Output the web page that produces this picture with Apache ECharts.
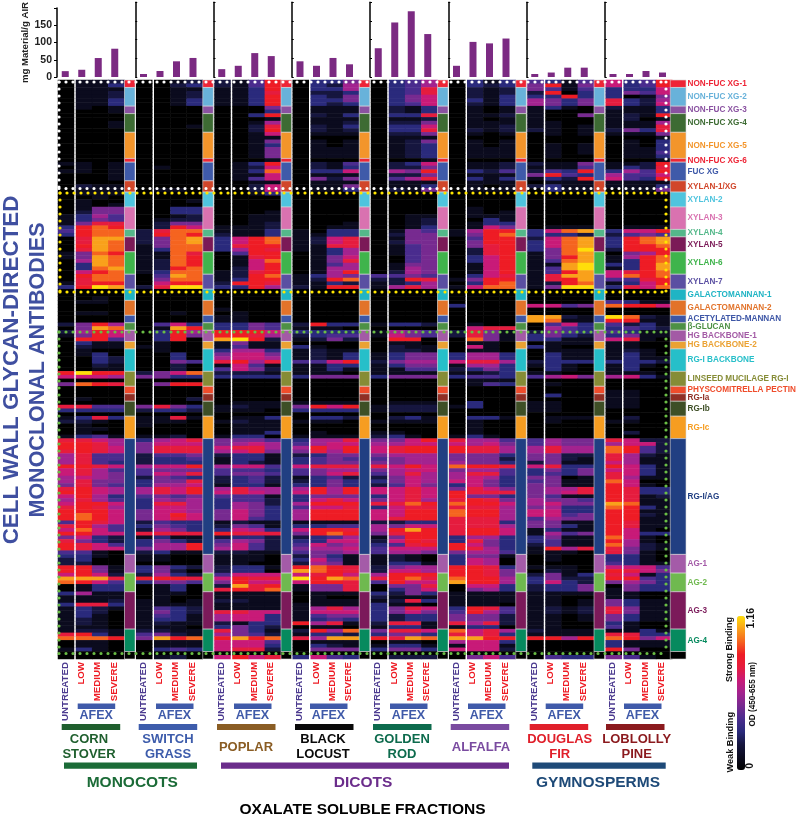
<!DOCTYPE html>
<html><head><meta charset="utf-8">
<style>html,body{margin:0;padding:0;background:#fff}#c{width:796px;height:818px}</style>
<script src="https://cdn.jsdelivr.net/npm/echarts@6/dist/echarts.min.js"></script>
</head><body><div id="c"></div>
<script>
// Antibody classes, top to bottom
const classNames = ["NON-FUC XG-1","NON-FUC XG-2","NON-FUC XG-3","NON-FUC XG-4","NON-FUC XG-5","NON-FUC XG-6","FUC XG","XYLAN-1/XG","XYLAN-2","XYLAN-3","XYLAN-4","XYLAN-5","XYLAN-6","XYLAN-7","GALACTOMANNAN-1","GALACTOMANNAN-2","ACETYLATED-MANNAN","β-GLUCAN","HG BACKBONE-1","HG BACKBONE-2","RG-I BACKBONE","LINSEED MUCILAGE RG-I","PHYSCOMITRELLA PECTIN","RG-Ia","RG-Ib","RG-Ic","RG-I/AG","AG-1","AG-2","AG-3","AG-4",""];
const classRows = [2,5,2,5,7,1,5,3,4,6,2,4,6,4,3,4,2,2,3,2,6,4,2,2,4,6,31,5,5,10,6,2];
const classColors = ["#ee2536","#68b2da","#8a52a1","#3d6b33","#f3952b","#ee2536","#3f5aa9","#d1462a","#4fc4de","#d972b0","#54b88a","#7b1a57","#3fb44c","#5a4fa2","#1fb4c4","#e2732a","#3d56a6","#4d9145","#a35aa5","#eba233","#26bfc9","#868c36","#ef4c2b","#902f25","#3e4f26","#f69d21","#213f82","#a45ba8","#6fb94f","#7b1a5a","#068a5e","#000000"];
const labelColors = classColors;

const species = ["CORN|STOVER","SWITCH|GRASS","POPLAR","BLACK|LOCUST","GOLDEN|ROD","ALFALFA","DOUGLAS|FIR","LOBLOLLY|PINE"];
const speciesColors = ["#1f5f2e","#3d5cab","#8a5d24","#0a0a0a","#0d6b4d","#7a4ba0","#e01f2a","#8b1a1e"];
const treatments = ["UNTREATED","LOW","MEDIUM","SEVERE"];
const divisions = ["MONOCOTS","DICOTS","GYMNOSPERMS"];

// mg Material / g AIR: untreated, low, medium, severe
const yieldCorn = [17,21,55,82];
const yieldSwitch = [8,16,42,51];
const yieldPoplar = [21,30,64,56];
const yieldLocust = [42,30,51,34];
const yieldGolden = [77,146,176,115];
const yieldAlfalfa = [30,94,90,103];
const yieldDouglas = [8,12,25,25];
const yieldLoblolly = [8,8,16,12];

// Binding level per antibody row, one hex digit per fraction (untreated, low, medium, severe); 0 = none, c = 1.16 OD
const cornStover = ["0112","0113","0111","0112","0112","0113","0113","0101","0001","0000","0000","0001","0001","0000",
"0000","0000","0000","0000","0000","0000","0000","0000","1101","0101","1101","0001","0001","0000","0211","0111",
"0111","0010","0100","0101","0155","0255","1364","1354","1588","39a9","49aa","39aa","08bb","08ba","09ba","08ba",
"15a9","15ba","06ba","03ba","03ab","079a","09aa","08aa","1899","39cb","0000","0000","0010","0110","0000","0000","0110",
"0000","0000","2596","05ba","2697","1597","0994","0311","0211","0100","0130","0032","0032","0021","0011",
"9c99","7776","0000","5a98","0000","0000","0000","0100","0000","8844","3333","0000","1383","2210","0100","0110","0100","1341",
"8876","9986","9987","8987","6844","6844","6843","9987","7864","7865","6765","6855","5854","8976","9976","7963","6864","7997",
"8986","9997","9a97","9a97","4987","8964","7a74","9977","5732","8532","9874","9877","4410",
"3310","2300","2200","9951","9951","7972","bbb8","a974","0133","0133",
"3611","1111","1112","3883","1321","1320","1310","1210","1210","1110","1221","8931","aaa9","0110","0110","1310","0000","0000"];

const switchGrass = ["0012","0023","0011","0012","0012","0013","0013","0000","0000","0000","0000","0000","0001","0000",
"0000","0000","0000","0000","0000","0000","0000","0000","0000","0100","0000","0000","0000","0000","0000","0110",
"0000","0000","0001","0000","0033","0033","0012","0122","0255","0297","28aa","29a9","25ab","25ab","15aa","13aa",
"11a8","11a9","12a9","12a9","129a","13aa","04ba","05aa","0799","28cc","0000","0000","0000","0000","0000","0000","0010",
"0000","0000","0473","01b9","0396","0395","0390","0100","1100","0100","0030","0030","0054","0020","0020",
"257a","5533","0000","0599","0000","0000","0000","0002","0000","5853","2332","0000","1181","1110","1000","0000","0000","1120",
"3678","5777","5888","5888","2445","2334","2333","6779","4555","4768","2543","3558","3667","6879","6879","4545","3656","3886",
"3776","5776","5797","5787","2433","3543","2653","8888","1311","3532","3669","5669","2311",
"1100","1100","0000","3532","3520","2632","9998","3554","0130","0130",
"0110","0100","1101","1111","1432","1532","1431","1331","1211","1110","2211","4521","5b9a","0111","0111","0343","0000","0120"];

const poplar = ["2149","2149","1139","1138","1139","1139","1139","0005","0003","0039","0001","0016","0028","0029",
"0017","0011","0015","0013","0015","0015","0015","0001","0139","0127","013a","0117","0147","0011","0027","0027",
"0013","0000","0000","0000","0000","0001","0011","0011","0012","1112","1113","2113","379a","379a","3899","3698",
"0499","0189","017a","0179","0279","1289","129a","1399","2998","3396","0000","0000","0000","0000","0000","1000","0100",
"1100","1100","3354","3354","9997","9986","bc92","1511","1411","3663","5775","6776","8968","1741","4752",
"2221","3333","0000","0000","0000","0000","0000","0000","0111","1211","1110","0000","0113","1211","0111","0111","0113","1330",
"5554","5676","7886","6785","2331","1331","1321","6774","4443","4554","2342","2342","1331","6866","7876","4441","3442","3652",
"3653","5753","5753","5743","1211","2541","3763","9888","2332","4652","5742","6742","2211",
"1110","1110","1100","2331","2330","4777","7988","5977","2b89","898a",
"1111","1111","2211","1111","1111","8877","6773","6773","2133","3532","8531","6542","9b9a","7774","7773","7882","0000","7978"];

const blackLocust = ["0335","0326","0336","0223","0325","0335","0323","0111","0111","0213","0111","0112","0213","0212",
"0111","0000","0101","0101","0111","0111","0111","0000","0214","0213","0337","0111","0525","0111","0115","0113",
"0000","0000","0000","0000","0000","0000","0000","0000","0001","0011","1033","1133","1278","1278","1188","1136",
"0136","0157","0158","0146","0166","0169","1365","129a","1132","2199","0000","0000","0000","0000","0000","0000","0000",
"0000","0000","2933","1110","3333","2344","1252","0000","3100","1211","1213","1213","4479","1133","1131",
"1110","3555","0000","0000","0000","0000","0000","0000","1111","5979","3333","0000","0332","1110","0000","0000","0100","1111",
"3668","4677","6979","5869","2355","3454","3455","7888","4566","4578","1342","2353","3353","6969","7969","3555","3787","6999",
"4778","6999","6999","6999","1111","3344","7998","59a9","2346","3377","4756","5667","4556",
"2531","3741","2651","9a98","ba98","7897","c9ba","7998","1558","1558",
"0111","0100","0111","1111","1686","1777","1455","1343","9681","0110","296a","1332","86bb","0111","0321","0555","0000","3743"];

const goldenRod = ["0346","0346","0348","0348","0357","0357","0347","0213","0213","0338","0112","0225","0337","0338",
"0225","0111","0125","0123","0123","0123","0123","0001","0237","0225","0659","0225","0468","0111","0113","0215",
"0000","0000","0000","0000","0000","0000","0011","0012","0012","0013","0154","0255","0155","0255","0145","0145",
"0145","0045","0045","0155","0165","0265","4454","2298","1236","1686","0000","0000","0000","0000","0000","0000","0000",
"0000","0000","1332","0000","1654","1754","0990","0110","0211","0221","1355","1355","2566","1355","1144",
"1111","3555","0000","0000","0000","0000","0000","0000","0111","1222","1222","0000","0231","1111","0000","0000","1100","2310",
"5579","6677","7899","7899","5666","4566","5566","8797","5677","4686","2576","3576","2475","7787","7787","3787","5786","88a9",
"3788","7799","7799","7899","2233","6577","69b9","5899","1599","2798","3489","4777","4665",
"1210","1210","1331","2566","2776","6999","89a8","4977","0558","0357",
"3253","2111","1283","3110","3587","3575","3233","3233","2881","1331","5887","3553","98ba","0110","1331","3553","0000","0222"];

const alfalfa = ["0313","0323","0212","0212","0213","0313","0213","0101","0101","0112","0101","0111","0112","0212",
"0101","0000","0101","0101","0111","0111","0111","0000","0112","0112","0324","0111","0313","0111","0101","0111",
"0000","0000","0000","0000","0100","0101","0111","0031","0133","0175","1699","159a","0499","0599","0589","0289",
"0289","0379","0379","0179","0179","0179","0378","1599","039a","17aa","0000","0000","0000","0000","3000","0000","0000",
"0000","0000","0100","0788","2851","2851","0a51","0110","0710","0110","3663","3663","7886","1663","2353",
"1123","3443","0111","0143","0000","0000","0000","0000","0300","1300","0000","0000","0331","0100","0100","0100","0100","1310",
"8664","7675","9886","9886","5553","5552","6553","a998","5664","6884","6763","7753","3753","5875","9888","9553","8985","a997",
"8886","a996","a996","8886","8883","8886","8997","8997","3663","3853","9753","9863","5664",
"3551","3760","3760","9983","9985","9985","a996","b996","0773","0563",
"1111","1111","1111","1110","3984","4964","5552","5552","8682","1330","a786","8783","bb99","6773","1771","7772","0000","0574"];

const douglasFir = ["4314","5915","5414","2903","3393","6535","6535","1310","1000","1005","1000","1100","1101","2101",
"0101","0000","0000","0101","0101","0101","0100","0000","2115","1114","2439","5943","1329","0111","2311","0311",
"0000","0000","0000","0000","0000","0000","0000","0000","0000","0111","37ab","3332","27ab","37ab","37ab","35ac",
"15ab","159b","14ab","11bc","14bc","149b","18bb","189b","129a","15cc","0000","0000","0000","0000","7745","0000","0000",
"bb21","ba11","0473","0643","2543","3532","3311","0111","3100","0111","0311","0311","2333","1310","0310",
"1100","4675","0000","0100","0000","0000","0300","0000","1100","1100","1100","0000","0111","0100","0000","0000","0000","0000",
"4655","4655","6866","6866","5522","5521","2511","7833","3535","3435","5501","4511","5511","5668","5678","5411","6554","6755",
"5633","7733","7745","4655","5511","5531","1311","1645","3511","3411","2411","1968","1110",
"0100","0100","0000","1110","0210","2513","3522","3732","2335","2335",
"1111","1100","1101","1101","1212","1212","1101","1101","1100","1100","2111","1111","9969","0000","0000","0000","0000","0433"];

const loblollyPine = ["7349","7349","3337","3547","3015","8326","8327","2113","1113","1219","1201","1116","1118","2538",
"1115","0001","0103","0103","0113","0114","0113","0001","1129","1328","3649","6447","7439","1111","1113","0115",
"0000","0000","0000","0000","0000","0000","0000","0000","0000","0111","3779","2454","39ab","39ab","399a","2999",
"0569","169a","139a","339b","139b","789a","7a9a","4489","1379","387a","0000","0000","0000","4311","a997","0000","0000",
"ca21","9911","4231","3432","4311","3511","7810","1100","1100","1210","1310","1311","3332","1310","1300",
"1110","6731","0000","0000","0000","1100","1100","1100","1100","1100","0000","0000","0200","1100","0000","0000","0200","0000",
"8722","6772","a942","a942","8621","8611","7611","9731","7731","8731","8611","a700","9710","9833","9833","9812","9811","ba11",
"a931","9911","9921","9911","9811","9811","9710","9733","a710","9610","a621","8521","8510",
"3310","3310","4311","7774","9875","8713","9943","5653","0533","1533",
"1100","1100","5311","5311","8511","8511","5311","5311","3100","4100","1131","8833","a957","3111","3111","9500","0000","5410"];

const heatBySpecies = [cornStover,switchGrass,poplar,blackLocust,goldenRod,alfalfa,douglasFir,loblollyPine];
const yieldBySpecies = [yieldCorn,yieldSwitch,yieldPoplar,yieldLocust,yieldGolden,yieldAlfalfa,yieldDouglas,yieldLoblolly];
const maxOD = 1.16;
const rampColors = ["#000000","#0b0b1e","#16163f","#2a2a7c","#4a2c8e","#772a90","#a3238f","#c81a78","#e51c3e","#ee1c25","#f5641f","#f9a11b","#ffde0a"];

const FONT = '"Liberation Sans",Arial,sans-serif';
const rowTotal = classRows.reduce((a,b)=>a+b,0);
heatBySpecies.forEach((a,i)=>{ if(a.length!==rowTotal) throw new Error('species '+i+' has '+a.length+' rows'); });
const rowCats = Array.from({length:rowTotal},(_,i)=>i);

const X0 = 58, PITCH = 78.25, TOP = 80, H = 579;
const grid=[], xAxis=[], yAxis=[], series=[];
function addHeat(left,width,cols,getCode){
  const g=grid.length;
  grid.push({left,width,top:TOP,height:H});
  xAxis.push({type:'category',gridIndex:g,data:cols,show:false});
  yAxis.push({type:'category',gridIndex:g,data:rowCats,inverse:true,show:false});
  const data=[];
  rowCats.forEach(r=>cols.forEach((c,ci)=>{
    data.push([ci,r,parseInt(getCode(r)[ci],16)/12*maxOD]);
  }));
  series.push({type:'heatmap',xAxisIndex:g,yAxisIndex:g,data,progressive:0,itemStyle:{borderWidth:0},emphasis:{disabled:true}});
}
species.forEach((s,i)=>{
  const x=X0+PITCH*i, codes=heatBySpecies[i];
  addHeat(x,16,[treatments[0]],r=>codes[r].slice(0,1));
  addHeat(x+18,48.5,treatments.slice(1),r=>codes[r].slice(1));
});
const heatSeriesIdx=series.map((_,i)=>i);

// yield bars
species.forEach((s,i)=>{
  const g=grid.length, first=i===0;
  grid.push({left:57+PITCH*i,width:66,top:2.3,height:74.7});
  xAxis.push({type:'category',gridIndex:g,data:treatments,axisLine:{show:false},axisTick:{show:false},axisLabel:{show:false}});
  yAxis.push({type:'value',gridIndex:g,min:0,max:200,interval:50,splitLine:{show:false},
    axisLine:{show:true,lineStyle:{color:'#000',width:1.5}},
    axisTick:{show:true,inside:!first,length:first?3:2,lineStyle:{color:'#000'}},
    axisLabel:{show:first,color:'#222',fontFamily:FONT,fontWeight:'bold',fontSize:10.5,margin:5,formatter:v=>v>150?'':String(v)},
    name:first?'mg Material/g AIR':'',nameLocation:'middle',nameGap:21,
    nameTextStyle:{color:'#222',fontFamily:FONT,fontWeight:'bold',fontSize:9.6}});
  series.push({type:'bar',xAxisIndex:g,yAxisIndex:g,data:yieldBySpecies[i],barWidth:7,itemStyle:{color:'#7b2a82'},silent:true});
});

// overlay grid: x in species pitches, y in antibody rows
const ov=grid.length;
grid.push({left:X0,width:628,top:TOP,height:H});
xAxis.push({type:'value',gridIndex:ov,min:0,max:628/PITCH,show:false});
yAxis.push({type:'value',gridIndex:ov,min:0,max:rowTotal,inverse:true,show:false});
const stripData=[], labelData=[];
let start=0;
classRows.forEach((n,c)=>{
  for(let g=0;g<8;g++){
    const a=g<7?g+0.85:7.825, b=g<7?g+0.985:628/PITCH;
    stripData.push([a,b,start,start+n,c]);
  }
  if(classNames[c]) labelData.push([628/PITCH+0.02,start+n/2,c]);
  start+=n;
});
series.push({type:'custom',xAxisIndex:ov,yAxisIndex:ov,data:stripData,clip:false,silent:true,z:5,
  encode:{x:[0,1],y:[2,3]},
  renderItem(p,api){
    const a=api.coord([api.value(0),api.value(2)]), b=api.coord([api.value(1),api.value(3)]);
    return {type:'rect',shape:{x:a[0],y:a[1],width:b[0]-a[0],height:b[1]-a[1]},
      style:{fill:classColors[api.value(4)],stroke:'#d8d8d8',lineWidth:0.6}};
  }});
series.push({type:'custom',xAxisIndex:ov,yAxisIndex:ov,data:labelData,clip:false,silent:true,z:6,
  encode:{x:0,y:1},
  renderItem(p,api){
    const a=api.coord([api.value(0),api.value(1)]), c=api.value(2);
    return {type:'text',x:a[0],y:a[1],style:{text:classNames[c],fill:labelColors[c],font:'bold 8.2px '+FONT,align:'left',verticalAlign:'middle'}};
  }});

// static annotation
const G=[];
function T(text,x,y,font,fill,rot,align,va){
  G.push({type:'text',x,y,rotation:rot||0,z:50,silent:true,style:{text,font:font+' '+FONT,fill,align:align||'center',verticalAlign:va||'middle'}});
}
function R(x,y,w,h,fill){G.push({type:'rect',shape:{x,y,width:w,height:h},style:{fill},z:40,silent:true});}
function dotted(x1,y1,x2,y2,c){
  G.push({type:'line',shape:{x1,y1,x2,y2},z:60,silent:true,style:{stroke:c,lineWidth:3.2,lineDash:[0,7],lineCap:'round'}});
}
const UP=Math.PI/2;
const afexL=[77.7,156,234,310,390,468,545.7,624];
const spL=[61.7,138.7,217,295,373,450.7,529.7,606];
const spC=[89,168,246,323,402,481,559.7,636.7];
species.forEach((s,i)=>{
  const u=65+78.2*i;
  T(treatments[0],u,662,'bold 9.7px','#4b3a8f',UP,'right');
  T(treatments[1],u+16.3,662,'bold 9.7px','#ee1c25',UP,'right');
  T(treatments[2],u+32.5,662,'bold 9.7px','#ee1c25',UP,'right');
  T(treatments[3],u+49,662,'bold 9.7px','#ee1c25',UP,'right');
  R(afexL[i],703.5,37.5,5.5,'#3f5aa9');
  T('AFEX',afexL[i]+18.5,716,'bold 12.5px','#3f5aa9');
  R(spL[i],724,58.5,6,speciesColors[i]);
  const p=s.split('|');
  if(p.length>1){T(p[0],spC[i],739,'bold 13px',speciesColors[i]);T(p[1],spC[i],754.5,'bold 13px',speciesColors[i]);}
  else T(p[0],spC[i],747,'bold 13px',speciesColors[i]);
});
R(64,762.5,133,6.3,'#1b6b37');R(221,762.5,288,6.3,'#6b2d8b');R(532.3,762.5,133.4,6.3,'#1e4a78');
T(divisions[0],132.3,783,'bold 15.5px','#1b6b37');
T(divisions[1],363,783,'bold 15.5px','#6b2d8b');
T(divisions[2],598,783,'bold 15.5px','#1e4a78');
T('OXALATE SOLUBLE FRACTIONS',362.5,810,'bold 15.5px','#000');
T('CELL WALL GLYCAN-DIRECTED',12,370,'bold 22.4px','#3f4fa0',UP);
T('MONOCLONAL ANTIBODIES',38,370,'bold 21.5px','#3f4fa0',UP);
T('Strong Binding',730,617,'bold 9px','#111',UP,'right');
T('Weak Binding',730,712,'bold 9.2px','#111',UP,'right');
T('OD (450-655 nm)',753,662,'bold 8.2px','#111',UP,'right');
T('1.16',751,608,'bold 10.5px','#111',UP,'right');
T('0',750,763,'bold 10.5px','#111',UP,'right');
[['#ffffff',82,188.5,59],['#ffe600',193,292,60],['#6abd45',332,653.5,59]].forEach(([c,t,b,l])=>{
  dotted(l,t,668,t,c);dotted(l,b,668,b,c);dotted(l,t,l,b,c);dotted(666,t,666,b,c);
});

const chart=echarts.init(document.getElementById('c'),null,{renderer:'canvas'});
chart.setOption({
  animation:false,backgroundColor:'#fff',
  grid,xAxis,yAxis,series,graphic:{elements:G},
  visualMap:{type:'continuous',min:0,max:maxOD,seriesIndex:heatSeriesIdx,calculable:false,show:true,
    left:722,top:601,itemWidth:8,itemHeight:154,text:null,showLabel:false,
    inRange:{color:rampColors},textStyle:{fontSize:0,color:'transparent'}}
});
</script></body></html>
